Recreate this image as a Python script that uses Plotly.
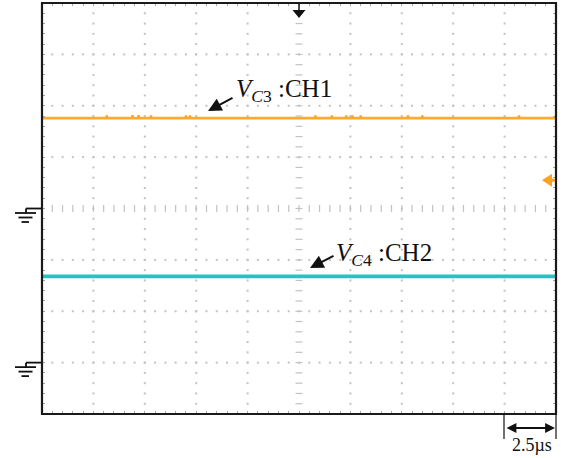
import numpy as np
import plotly.graph_objects as go

# ---- data (oscilloscope readings) ----
time_us = [-12.5, 12.5]              # time axis extent, 2.5 us/div
ch1_div = [1.76, 1.76]               # V_C3 level, divisions
ch2_div = [-1.32, -1.32]             # V_C4 level, divisions
ch1_spike_t = [-9.35, -8.1, -7.8, -7.2, -5.5, -5.3, 0.8, 1.6, 2.3, 2.6, 3.0, 5.3, 6.0, 10.7]
ch1_spike_v = [1.79, 1.795, 1.795, 1.79, 1.79, 1.79, 1.79, 1.79, 1.79, 1.79, 1.79, 1.79, 1.79, 1.79]
ch1_ground = 0.0
ch2_ground = -3.0
trigger_level = 0.55
label_ch1 = "<i>V</i><sub><i>C</i>3</sub> :CH1"
label_ch2 = "<i>V</i><sub><i>C</i>4</sub> :CH2"
scale_label = "2.5µs"

W, H = 567, 458
L, R, T, B = 42, 556, 3, 414
XMIN, XMAX, YMIN, YMAX = -12.5, 12.5, -4, 4

def px(x):
    return (x - L) / (R - L)

def py(y):
    return (B - y) / (B - T)

fig = go.Figure()

grid_col = "#c2c2c2"
# graticule dots
for gx in np.arange(-10, 10.01, 2.5):
    if abs(gx) < 1e-9:
        continue
    ys = np.arange(-4, 4.001, 0.2)
    fig.add_trace(go.Scatter(x=[gx] * len(ys), y=ys, mode="markers",
                             marker=dict(symbol="square", size=2, color=grid_col),
                             hoverinfo="skip", showlegend=False))
for gy in range(-3, 4):
    if gy == 0:
        continue
    xs = np.arange(-12.5, 12.501, 0.5)
    fig.add_trace(go.Scatter(x=xs, y=[gy] * len(xs), mode="markers",
                             marker=dict(symbol="square", size=2, color=grid_col),
                             hoverinfo="skip", showlegend=False))
# centre axes with small dashes
ys = np.arange(-4, 4.001, 0.2)
fig.add_trace(go.Scatter(x=[0] * len(ys), y=ys, mode="markers",
                         marker=dict(symbol="line-ew", size=5, line=dict(width=1.2, color=grid_col)),
                         hoverinfo="skip", showlegend=False))
xs = np.arange(-12.5, 12.501, 0.5)
fig.add_trace(go.Scatter(x=xs, y=[0] * len(xs), mode="markers",
                         marker=dict(symbol="line-ns", size=5, line=dict(width=1.2, color=grid_col)),
                         hoverinfo="skip", showlegend=False))

# channels
fig.add_trace(go.Scatter(x=time_us, y=ch1_div, mode="lines",
                         line=dict(color="#FFAA2E", width=2.6), hoverinfo="skip", showlegend=False))
fig.add_trace(go.Scatter(x=ch1_spike_t, y=ch1_spike_v, mode="markers",
                         marker=dict(symbol="square", size=2.5, color="#FFA020"),
                         hoverinfo="skip", showlegend=False))
fig.add_trace(go.Scatter(x=time_us, y=ch2_div, mode="lines",
                         line=dict(color="#22C3C3", width=3.8), hoverinfo="skip", showlegend=False))

shapes = []
# frame
shapes.append(dict(type="rect", xref="paper", yref="paper", x0=0, x1=1, y0=0, y1=1,
                   line=dict(color="#1a1a1a", width=2.2)))

# ground symbols
def ground(yd):
    ypix = B - (yd - YMIN) / (YMAX - YMIN) * (B - T)
    segs = [((41, ypix), (26, ypix)), ((26, ypix), (26, ypix + 4.5)),
            ((15, ypix + 4.5), (36, ypix + 4.5)), ((18.5, ypix + 9), (32.5, ypix + 9)),
            ((21.5, ypix + 13.5), (29, ypix + 13.5))]
    for (x0, y0), (x1, y1) in segs:
        shapes.append(dict(type="line", xref="paper", yref="paper",
                           x0=px(x0), x1=px(x1), y0=py(y0), y1=py(y1),
                           line=dict(color="#111111", width=1.8)))

ground(ch1_ground)
ground(ch2_ground)

# scale bar verticals
for xv in (504, 556):
    shapes.append(dict(type="line", xref="paper", yref="paper",
                       x0=px(xv), x1=px(xv), y0=py(414), y1=py(439),
                       line=dict(color="#111111", width=1.2)))
# trigger position stem
shapes.append(dict(type="line", xref="paper", yref="paper",
                   x0=px(299), x1=px(299), y0=py(3), y1=py(11),
                   line=dict(color="#111111", width=1.5)))
# trigger position triangle
shapes.append(dict(type="path", xref="paper", yref="paper",
                   path=f"M {px(292.5)} {py(10)} L {px(305.5)} {py(10)} L {px(299)} {py(18)} Z",
                   fillcolor="#111111", line=dict(width=0)))
# trigger level marker (orange, right)
ty = B - (trigger_level - YMIN) / (YMAX - YMIN) * (B - T)
shapes.append(dict(type="path", xref="paper", yref="paper",
                   path=f"M {px(542)} {py(ty)} L {px(552)} {py(ty-6.5)} L {px(552)} {py(ty+6.5)} Z",
                   fillcolor="#FFA020", line=dict(width=0)))
shapes.append(dict(type="line", xref="paper", yref="paper",
                   x0=px(550), x1=px(555), y0=py(ty), y1=py(ty),
                   line=dict(color="#FFA020", width=3)))

annotations = []
font = dict(family="Liberation Serif, Times New Roman, serif", size=25, color="#111111")
# arrows
annotations.append(dict(xref="paper", yref="paper", x=px(208), y=py(111), ax=26, ay=-14,
                        text="", showarrow=True, arrowhead=2, arrowsize=1.35, arrowwidth=2,
                        arrowcolor="#111111", standoff=0))
annotations.append(dict(xref="paper", yref="paper", x=px(310), y=py(268), ax=25, ay=-13,
                        text="", showarrow=True, arrowhead=2, arrowsize=1.35, arrowwidth=2,
                        arrowcolor="#111111", standoff=0))
annotations.append(dict(xref="paper", yref="paper", x=px(234), y=py(91), xanchor="left",
                        yanchor="middle", text=label_ch1, showarrow=False, font=font))
annotations.append(dict(xref="paper", yref="paper", x=px(334), y=py(254), xanchor="left",
                        yanchor="middle", text=label_ch2, showarrow=False, font=font))
# scale double arrow
annotations.append(dict(xref="paper", yref="paper", x=px(555), y=py(428),
                        ax=-50, ay=0,
                        text="", showarrow=True, arrowhead=2, arrowside="end+start",
                        arrowsize=1.1, arrowwidth=1.8, arrowcolor="#111111", standoff=0, startstandoff=0,
                        startarrowhead=2, startarrowsize=1.1))
annotations.append(dict(xref="paper", yref="paper", x=px(532), y=py(445), xanchor="center",
                        yanchor="middle", text=scale_label, showarrow=False,
                        font=dict(family="Liberation Serif, Times New Roman, serif", size=18, color="#111111")))

fig.update_layout(
    width=W, height=H,
    margin=dict(l=L, r=W - R, t=T, b=H - B),
    paper_bgcolor="white", plot_bgcolor="white",
    shapes=shapes, annotations=annotations,
    xaxis=dict(range=[XMIN, XMAX], showgrid=False, zeroline=False, showticklabels=False,
               ticks="inside", ticklen=3, tickcolor="#a8a8a8", dtick=0.5, tick0=-12.5,
               mirror="ticks", showline=False, fixedrange=True),
    yaxis=dict(range=[YMIN, YMAX], showgrid=False, zeroline=False, showticklabels=False,
               ticks="inside", ticklen=3, tickcolor="#a8a8a8", dtick=0.2, tick0=-4,
               mirror="ticks", showline=False, fixedrange=True),
)

fig.write_html("out.html", config={"displayModeBar": False},
               post_script="document.body.style.margin='0';document.body.style.overflow='hidden';")
